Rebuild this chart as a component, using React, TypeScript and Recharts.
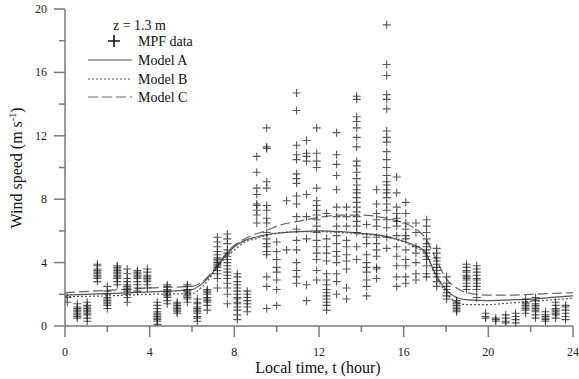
import React from 'react';
import { ComposedChart, Scatter, Line, XAxis, YAxis } from 'recharts';

// measurement columns (local time, hour) and the wind speeds seen in each column (m/s)
const columnTimes = [
  0.11, 0.58, 1.05, 1.53, 2.0, 2.47, 2.94, 3.42, 3.89, 4.36, 4.83, 5.3, 5.78, 6.25, 6.72, 7.2, 7.67,
  8.14, 8.61, 9.06, 9.53, 10.0, 10.47, 10.94, 11.41, 11.89, 12.36, 12.83, 13.3, 13.78, 14.25, 14.72,
  15.2, 15.67, 16.1, 16.58, 17.08, 17.56, 18.03, 18.5, 18.97, 19.45, 19.87, 20.35, 20.82, 21.29,
  21.76, 22.23, 22.7, 23.18, 23.65,
];

const columnValues = [
  [1.5, 1.8],
  [0.5, 0.6, 0.7, 0.8, 0.9, 1.0, 1.1, 1.2, 1.4],
  [0.3, 0.5, 0.7, 0.8, 0.9, 1.0, 1.1, 1.2, 1.3, 1.5],
  [2.8, 3.0, 3.1, 3.2, 3.3, 3.4, 3.5, 3.6, 3.8, 3.9],
  [1.1, 1.3, 1.4, 1.5, 1.6, 1.7, 1.8, 2.0, 2.2, 2.5],
  [2.6, 2.8, 3.0, 3.1, 3.2, 3.3, 3.4, 3.5, 3.6, 3.7, 3.8],
  [1.5, 1.8, 2.0, 2.2, 2.3, 2.4, 2.5, 2.6, 2.8, 3.0, 3.3, 3.6],
  [2.2, 2.4, 2.6, 2.8, 3.0, 3.1, 3.2, 3.3, 3.4, 3.5],
  [2.4, 2.6, 2.8, 2.9, 3.0, 3.1, 3.2, 3.4, 3.6],
  [0.1, 0.3, 0.4, 0.5, 0.6, 0.7, 0.8, 0.9, 1.1, 1.3, 1.5],
  [1.4, 1.6, 1.8, 1.9, 2.0, 2.1, 2.2, 2.3, 2.5, 2.6],
  [0.8, 0.9, 1.0, 1.1, 1.2, 1.3, 1.4, 1.5],
  [1.5, 1.7, 1.8, 1.9, 2.0, 2.1, 2.2, 2.3, 2.5, 2.6],
  [0.3, 0.5, 0.6, 0.8, 0.9, 1.0, 1.1, 1.2, 1.4, 1.5, 1.7],
  [1.0, 1.3, 1.5, 1.6, 1.7, 1.8, 2.0, 2.1, 2.2, 2.3],
  [2.4, 3.0, 3.3, 3.5, 3.7, 3.8, 3.9, 4.0, 4.1, 4.2, 4.3, 4.5, 4.7, 5.0, 5.3, 5.6],
  [1.4, 2.0, 2.4, 2.7, 3.0, 3.2, 3.4, 3.6, 3.8, 4.0, 4.2, 4.4, 4.6, 4.8, 5.2, 5.5, 5.8],
  [0.4, 0.7, 1.0, 1.2, 1.4, 1.5, 1.7, 1.8, 2.0, 2.2, 2.4, 2.6, 2.8, 3.1, 3.3],
  [0.9, 1.2, 1.4, 1.6, 1.8, 2.0, 2.2],
  [6.5, 7.0, 7.3, 7.6, 7.7, 8.3, 8.7, 9.7, 10.7],
  [1.1, 2.5, 3.1, 4.5, 4.7, 5.0, 5.2, 5.5, 5.9, 6.5, 6.8, 7.3, 7.6, 8.7, 9.1, 11.2, 11.3, 12.5],
  [1.3, 2.3, 2.9, 3.4, 3.7, 4.2, 4.7, 5.3],
  [4.8, 7.9],
  [2.7, 3.1, 3.5, 4.0, 4.8, 5.4, 6.1, 6.9, 7.7, 8.2, 9.0, 9.3, 9.6, 10.5, 10.8, 11.4, 13.6, 14.7],
  [1.6, 2.6, 5.5, 6.9, 8.3, 10.4, 10.7, 10.9, 11.7],
  [2.9, 3.5, 4.2, 4.6, 5.0, 5.4, 5.9, 6.3, 6.7, 7.0, 7.3, 7.6, 7.9, 8.7, 10.0, 10.4, 10.9, 12.5],
  [1.0, 1.3, 1.5, 1.7, 1.9, 2.1, 2.3, 2.6, 2.9, 3.3, 4.1, 4.6, 5.0, 5.5, 7.1],
  [2.0, 2.8, 3.3, 4.0, 4.4, 4.7, 5.2, 5.7, 6.3, 6.9, 7.5, 8.6, 9.5, 10.2, 10.8, 12.2],
  [1.7, 2.4, 3.6, 4.1, 4.5, 5.0, 5.4, 6.3, 6.9, 7.5],
  [4.2, 5.0, 5.9, 6.3, 6.6, 6.9, 7.2, 7.5, 7.8, 8.1, 8.4, 8.6, 8.9, 9.3, 9.7, 10.1, 10.4, 11.3, 11.9, 12.5, 12.9, 13.2, 14.3, 14.5],
  [1.9, 2.5, 2.9, 3.4, 3.7, 4.0, 4.5, 5.2, 5.6, 6.4],
  [3.0, 3.6, 3.7, 4.4, 4.8, 5.2, 5.6, 6.3, 6.7, 7.1, 7.7, 8.6],
  [4.9, 5.6, 6.2, 6.7, 7.3, 7.7, 8.1, 8.4, 8.6, 8.9, 9.1, 9.5, 10.0, 10.5, 11.0, 11.6, 11.9, 12.3, 13.7, 14.3, 14.6, 15.8, 16.5, 19.0],
  [2.5, 3.1, 3.8, 4.4, 5.0, 5.7, 6.3, 6.6, 6.8, 7.1, 7.5, 8.4, 9.4],
  [2.7, 3.1, 3.8, 4.2, 4.8, 5.5, 5.7, 6.1, 6.5, 7.1, 7.8],
  [2.9, 3.3, 4.0, 4.6, 5.0, 5.9, 6.5],
  [3.1, 3.3, 3.8, 4.2, 4.4, 4.6, 4.8, 5.0, 5.2, 5.5, 5.9, 6.3, 6.7],
  [2.5, 2.8, 3.1, 3.3, 3.5, 3.7, 3.9, 4.1, 4.3, 4.6, 4.9],
  [1.7, 1.9, 2.1, 2.3, 2.5, 2.7, 3.1],
  [0.9, 1.0, 1.1, 1.2, 1.3, 1.4, 1.5, 1.6],
  [2.3, 2.5, 2.7, 2.9, 3.0, 3.1, 3.2, 3.4, 3.5, 3.7, 3.9],
  [1.8, 2.3, 2.5, 2.7, 2.9, 3.0, 3.2, 3.4, 3.6, 3.8],
  [0.5, 0.6, 0.8],
  [0.3, 0.4, 0.5],
  [0.2, 0.3, 0.5, 0.7],
  [0.2, 0.4, 0.6, 0.8],
  [0.8, 1.0, 1.1, 1.2, 1.3, 1.4, 1.5, 1.7],
  [0.5, 0.7, 0.9, 1.0, 1.1, 1.2, 1.3, 1.4, 1.6, 1.8],
  [0.3, 0.4, 0.5, 0.6, 0.7, 0.9],
  [0.5, 0.7, 0.8, 0.9, 1.0, 1.1, 1.3, 1.5],
  [0.4, 0.6, 0.8, 1.0, 1.2, 1.3],
];

// model curves
const modelTimes = [0, 2, 4, 6, 6.5, 7, 7.5, 8, 8.5, 9, 9.5, 10, 11, 12, 13, 14, 15, 16, 16.5, 17, 17.5, 18, 18.5, 19, 20, 21, 22, 23, 24];
const modelA = [1.95, 2.05, 2.15, 2.3, 2.7, 3.4, 4.3, 5.0, 5.4, 5.6, 5.75, 5.85, 5.95, 6.0, 5.95, 5.85, 5.7, 5.35, 5.1, 4.7, 3.3, 2.3, 1.8, 1.65, 1.6, 1.65, 1.7, 1.8, 1.9];
const modelB = [1.85, 1.9, 2.0, 2.05, 2.5, 3.3, 4.2, 4.8, 5.3, 5.5, 5.7, 5.85, 5.95, 5.95, 5.9, 5.8, 5.65, 5.3, 5.0, 4.6, 3.2, 2.1, 1.5, 1.35, 1.35, 1.45, 1.55, 1.65, 1.75];
const modelC = [2.1, 2.25, 2.4, 2.5, 2.8, 3.5, 4.4, 5.1, 5.5, 5.8, 6.0, 6.3, 6.6, 6.85, 7.0, 7.0, 6.85, 6.5, 6.2, 5.6, 4.3, 3.0, 2.4, 2.1, 1.95, 1.95, 2.0, 2.05, 2.1];

const xTicks = [0, 2, 4, 6, 8, 10, 12, 14, 16, 18, 20, 22, 24];
const yTicks = [0, 2, 4, 6, 8, 10, 12, 14, 16, 18, 20];

const FONT = '"Liberation Serif", "Times New Roman", serif';
const AXIS = '#7a7a7a';

const mpfPoints = columnTimes.flatMap((t, i) => columnValues[i].map((v) => ({ t, v })));
const models = modelTimes.map((t, i) => ({ t, a: modelA[i], b: modelB[i], c: modelC[i] }));

const Plus = (props: any) => {
  const { cx, cy } = props;
  if (cx == null || cy == null) return null;
  return (
    <path
      d={`M${cx - 4},${cy}H${cx + 4}M${cx},${cy - 4}V${cy + 4}`}
      stroke="#222"
      strokeWidth={1.1}
      strokeOpacity={0.75}
      fill="none"
    />
  );
};

const YTick = ({ x, y, payload }: any) => {
  const major = payload.value % 4 === 0;
  return (
    <g>
      <line x1={x - (major ? 11 : 6)} x2={x} y1={y} y2={y} stroke={AXIS} strokeWidth={1.5} />
      {major && (
        <text x={x - 18} y={y + 4} textAnchor="end" fontFamily={FONT} fontSize={12} fill="#222">
          {payload.value}
        </text>
      )}
    </g>
  );
};

const XTick = ({ x, y, payload }: any) => {
  const major = payload.value % 4 === 0;
  return (
    <g>
      <line x1={x} x2={x} y1={y} y2={y + (major ? 11 : 6)} stroke={AXIS} strokeWidth={1.5} />
      {major && (
        <text x={x} y={y + 30} textAnchor="middle" fontFamily={FONT} fontSize={12} fill="#222">
          {payload.value}
        </text>
      )}
    </g>
  );
};

export default function App() {
  return (
    <div style={{ position: 'absolute', left: 0, top: 0, width: 579, height: 379, background: '#fff' }}>
      <ComposedChart width={579} height={379} margin={{ top: 9, right: 6, bottom: 0, left: 0 }}>
        <XAxis
          type="number"
          dataKey="t"
          domain={[0, 24]}
          ticks={xTicks}
          interval={0}
          height={53}
          tickSize={0}
          tickMargin={0}
          tickLine={false}
          tick={<XTick />}
          axisLine={{ stroke: AXIS, strokeWidth: 1.5 }}
          allowDataOverflow
        />
        <YAxis
          type="number"
          domain={[0, 20]}
          ticks={yTicks}
          interval={0}
          width={65}
          tickSize={0}
          tickMargin={0}
          tickLine={false}
          tick={<YTick />}
          axisLine={{ stroke: AXIS, strokeWidth: 1.5 }}
          allowDataOverflow
        />
        <Line data={models} dataKey="c" type="monotone" stroke="#666" strokeWidth={1.2} strokeDasharray="10 4" dot={false} isAnimationActive={false} />
        <Line data={models} dataKey="a" type="monotone" stroke="#555" strokeWidth={1.2} dot={false} isAnimationActive={false} />
        <Line data={models} dataKey="b" type="monotone" stroke="#555" strokeWidth={1.2} strokeDasharray="2 2" dot={false} isAnimationActive={false} />
        <Scatter data={mpfPoints} dataKey="v" shape={<Plus />} isAnimationActive={false} />
      </ComposedChart>

      <svg width={579} height={379} style={{ position: 'absolute', left: 0, top: 0, pointerEvents: 'none' }}>
        <g fontFamily={FONT} fill="#111">
          <text x={113} y={30} fontSize={14}>z = 1.3 m</text>
          <path d="M108,41H120M114,35V47" stroke="#111" strokeWidth={1.6} />
          <text x={138} y={46} fontSize={14}>MPF data</text>
          <line x1={88} x2={132} y1={60} y2={60} stroke="#555" strokeWidth={1.2} />
          <text x={138} y={65} fontSize={14}>Model A</text>
          <line x1={88} x2={132} y1={79} y2={79} stroke="#555" strokeWidth={1.2} strokeDasharray="2 2" />
          <text x={138} y={84} fontSize={14}>Model B</text>
          <line x1={88} x2={132} y1={97} y2={97} stroke="#666" strokeWidth={1.2} strokeDasharray="10 4" />
          <text x={138} y={102} fontSize={14}>Model C</text>
          <text x={318} y={373} fontSize={16} textAnchor="middle">Local time, t (hour)</text>
          <text transform="translate(22,168) rotate(-90)" fontSize={16} textAnchor="middle">
            Wind speed (m s<tspan dy={-6} fontSize={10}>-1</tspan><tspan dy={6}>)</tspan>
          </text>
        </g>
      </svg>
    </div>
  );
}
